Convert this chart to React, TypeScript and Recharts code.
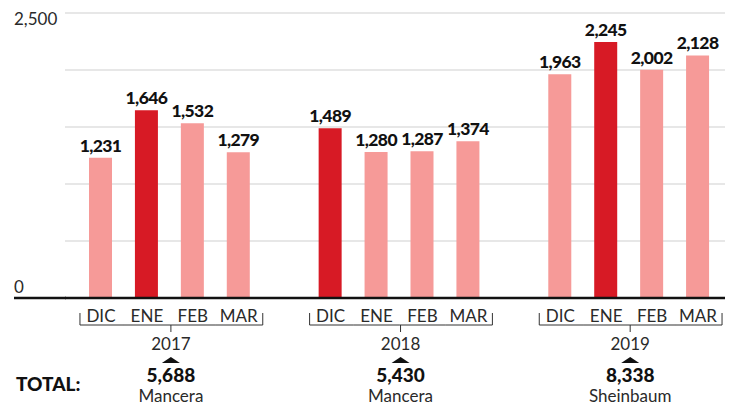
import React from 'react';
import { BarChart, Bar, XAxis, YAxis, CartesianGrid, Cell, LabelList } from 'recharts';

const years = ['2017', '2018', '2019'];
const months = ['DIC', 'ENE', 'FEB', 'MAR'];
const visits2017 = [1231, 1646, 1532, 1279];
const visits2018 = [1489, 1280, 1287, 1374];
const visits2019 = [1963, 2245, 2002, 2128];
const totals = [5688, 5430, 8338];
const mayors = ['Mancera', 'Mancera', 'Sheinbaum'];
const yTicks = [0, 500, 1000, 1500, 2000, 2500];

const LIGHT = '#F69A98';
const DARK = '#D71A25';
const FONT = 'Lato, "Open Sans", sans-serif';

interface Row {
    id: string;
    month: string;
    group: number;
    pos: number;
    value: number | null;
    top: boolean;
}

// 4 months per year, with an empty slot between the years
const series = [visits2017, visits2018, visits2019];
const rows: Row[] = [];
years.forEach((yr, g) => {
    const max = Math.max(...series[g]);
    months.forEach((m, i) => {
        rows.push({ id: `${yr}-${m}`, month: m, group: g, pos: i, value: series[g][i], top: series[g][i] === max });
    });
    if (g < years.length - 1) {
        rows.push({ id: `gap-${g}`, month: '', group: g, pos: -1, value: null, top: false });
    }
});

const fmt = (v: number) => v.toLocaleString('en-US');

const MonthTick = (props: any) => {
    const { x, y, index } = props;
    const row = rows[index];
    if (!row || !row.month) return null;
    const half = 23;
    const by = y + 27;
    const parts: React.ReactNode[] = [];
    parts.push(
        <text key="m" x={x} y={y + 17} textAnchor="middle" dominantBaseline="central"
            fontFamily={FONT} fontSize={17} fontWeight={400} fill="#2a2a2a">{row.month}</text>
    );
    const x1 = row.pos === 0 ? x - 21 : x - half;
    const x2 = row.pos === 3 ? x + 24 : x + half;
    parts.push(<line key="h" x1={x1} x2={x2} y1={by} y2={by} stroke="#333" strokeWidth={1} />);
    if (row.pos === 0) parts.push(<line key="l" x1={x1} x2={x1} y1={y + 15} y2={by} stroke="#333" strokeWidth={1} />);
    if (row.pos === 3) parts.push(<line key="r" x1={x2} x2={x2} y1={y + 15} y2={by} stroke="#333" strokeWidth={1} />);
    if (row.pos === 1) {
        const cx = x + 24;
        parts.push(<line key="c" x1={cx} x2={cx} y1={by} y2={by + 7} stroke="#333" strokeWidth={1} />);
        parts.push(
            <text key="y" x={cx} y={y + 45} textAnchor="middle" dominantBaseline="central"
                fontFamily={FONT} fontSize={17} fontWeight={400} fill="#2a2a2a">{years[row.group]}</text>
        );
        parts.push(
            <polygon key="t" points={`${cx - 9},${y + 65} ${cx + 9},${y + 65} ${cx},${y + 59}`} fill="#111" />
        );
        parts.push(
            <text key="tot" x={cx} y={y + 76} textAnchor="middle" dominantBaseline="central"
                fontFamily={FONT} fontSize={19} fontWeight={900} fill="#111">{fmt(totals[row.group])}</text>
        );
        parts.push(
            <text key="n" x={cx} y={y + 97} textAnchor="middle" dominantBaseline="central"
                fontFamily={FONT} fontSize={17} fontWeight={400} fill="#2a2a2a">{mayors[row.group]}</text>
        );
    }
    if (index === 0) {
        parts.push(
            <text key="T" x={16} y={y + 85} dominantBaseline="central"
                fontFamily={FONT} fontSize={19} fontWeight={900} fill="#111">TOTAL:</text>
        );
    }
    return <g>{parts}</g>;
};

const ValueTick = (props: any) => {
    const { y, payload } = props;
    if (payload.value === 2500) {
        return <text x={14} y={y + 12} fontFamily={FONT} fontSize={17} fontWeight={400} fill="#2a2a2a">{fmt(2500)}</text>;
    }
    if (payload.value === 0) {
        return (
            <g>
                <line x1={14} x2={66} y1={y} y2={y} stroke="#111" strokeWidth={2.5} />
                <text x={14} y={y - 5} fontFamily={FONT} fontSize={17} fontWeight={400} fill="#2a2a2a">0</text>
            </g>
        );
    }
    return null;
};

const ValueLabel = (props: any) => {
    const { x, y, width, value } = props;
    if (value == null) return null;
    return (
        <text x={x + width / 2} y={y - 6} textAnchor="middle" fontFamily={FONT} fontSize={17.5}
            fontWeight={900} fill="#111" letterSpacing={-0.6}>{fmt(value)}</text>
    );
};

export default function App() {
    return (
        <div style={{ width: 732, height: 406, background: '#fff' }}>
            <style>{'body{margin:0}'}</style>
            <BarChart width={732} height={406} data={rows} margin={{ top: 13, right: 7, left: 0, bottom: 0 }}>
                <CartesianGrid vertical={false} stroke="#cfcfcf" />
                <YAxis
                    width={65}
                    domain={[0, 2500]}
                    ticks={yTicks}
                    axisLine={false}
                    tickLine={false}
                    tick={ValueTick}
                />
                <XAxis
                    dataKey="id"
                    interval={0}
                    height={108}
                    tickSize={0}
                    tickMargin={0}
                    tickLine={false}
                    axisLine={{ stroke: '#111', strokeWidth: 2.5 }}
                    padding={{ left: 13, right: 4 }}
                    tick={MonthTick}
                />
                <Bar dataKey="value" barSize={23} isAnimationActive={false}>
                    {rows.map((r, i) => (
                        <Cell key={`cell-${i}`} fill={r.top ? DARK : LIGHT} />
                    ))}
                    <LabelList dataKey="value" content={ValueLabel} />
                </Bar>
            </BarChart>
        </div>
    );
}
